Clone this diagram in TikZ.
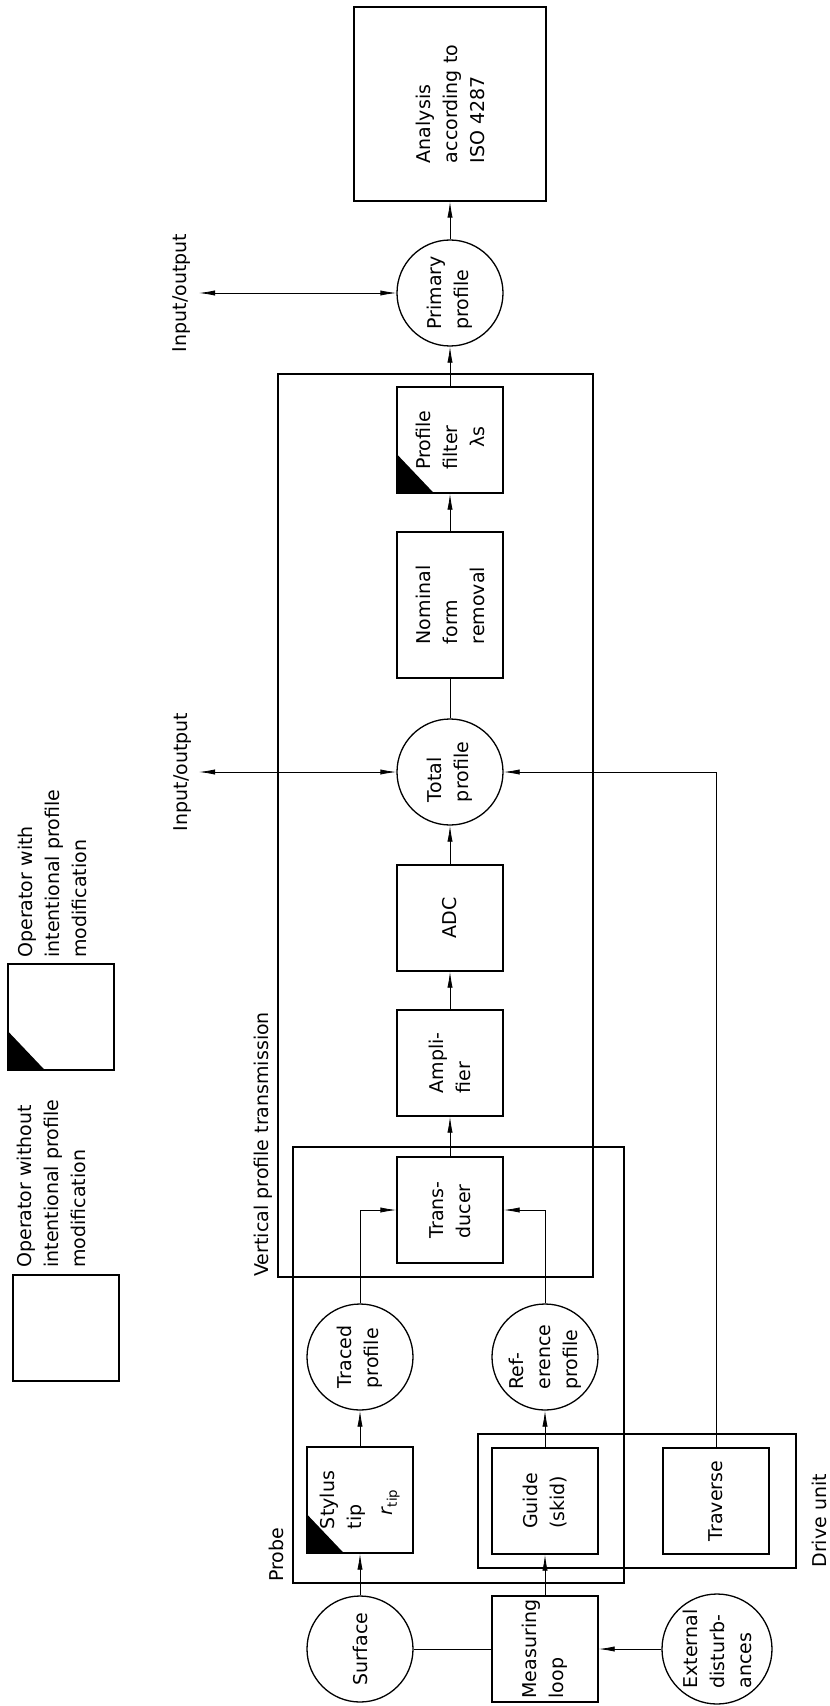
\documentclass[tikz,border=0pt]{standalone}
\usepackage{fontspec}
\setmainfont{DejaVu Sans}
\usetikzlibrary{shapes.geometric, arrows.meta, positioning}

\tikzset{
  opbox/.style={draw, rectangle, line width=0.65pt, rotate=90, align=left,
    minimum width=53pt, minimum height=53pt, inner sep=1pt},
  profcircle/.style={draw, ellipse, line width=0.65pt, rotate=90, align=left,
    minimum size=53pt, inner sep=-5pt},
  groupframe/.style={line width=0.65pt},
  flow/.style={-{Latex[length=8pt,width=2.6pt]}, line width=0.4pt},
  twoway/.style={{Latex[length=8pt,width=2.6pt]}-{Latex[length=8pt,width=2.6pt]}, line width=0.4pt},
  thinline/.style={line width=0.4pt},
  sidelabel/.style={rotate=90, inner sep=0pt, align=left},
}

\begin{document}
\begin{tikzpicture}[x=0.5pt, y=-0.5pt, font=\fontsize{9.5}{13.5}\selectfont]
    \useasboundingbox (0,0) rectangle (829,1706);

    % main chain
    \node[opbox, minimum width=97pt, minimum height=96pt] (ana) at (450,104) {Analysis\\according to\\ISO 4287};
    \node[profcircle] (prim) at (450,293) {Primary\\profile};
    \node[opbox] (filt) at (450,440) {Profile\\filter\\\hspace*{11pt}λs};
    \node[opbox, minimum width=73pt] (nom) at (450,605) {Nominal\\form\\removal};
    \node[profcircle] (tot) at (450,772) {Total\\profile};
    \node[opbox] (adc) at (450,918) {ADC};
    \node[opbox] (amp) at (450,1063) {Ampli-\\fier};
    \node[opbox] (trans) at (450,1210) {Trans-\\ducer};

    % probe and drive unit
    \node[profcircle] (traced) at (360,1357) {Traced\\profile};
    \node[profcircle] (ref) at (545,1357) {Ref-\\erence\\profile};
    \node[opbox] (stylus) at (360,1500) {Stylus\\tip\\[2pt]\hspace*{7pt}{\itshape r}\textsubscript{tip}};
    \node[opbox] (guide) at (545,1501) {Guide\\(skid)};
    \node[opbox] (trav) at (716,1501) {Traverse};
    \node[profcircle] (surf) at (360,1649) {Surface};
    \node[opbox] (meas) at (545,1649) {Measuring\\loop};
    \node[profcircle, minimum size=55pt] (ext) at (717,1649) {External\\disturb-\\ances};

    % legend
    \node[opbox] (legplain) at (66,1328) {};
    \node[opbox] (legmod) at (61,1017) {};
    \node[sidelabel, anchor=north west] (legplaintext) at (17,1268) {Operator without\\intentional profile\\modification};
    \node[sidelabel, anchor=north west] (legmodtext) at (18,958) {Operator with\\intentional profile\\modification};

    % black corners of the modifying operators
    \foreach \n in {legmod, stylus, filt}
        \fill (\n.north west) -- ++(0,-40) -- ++(38,40) -- cycle;

    % group frames
    \draw[groupframe] (278,374) rectangle (593,1277);
    \draw[groupframe] (293,1147) rectangle (624,1583);
    \draw[groupframe] (478,1434) rectangle (796,1568);
    \node[sidelabel, anchor=base west] (vptlabel) at (268,1277) {Vertical profile transmission};
    \node[sidelabel, anchor=base west] (probelabel) at (283,1582) {Probe};
    \node[sidelabel, anchor=base west] (drivelabel) at (826,1568) {Drive unit};

    % input/output
    \coordinate (ioprim) at (199,293);
    \coordinate (iotot) at (199,772);
    \node[sidelabel, anchor=base] (ioprimlabel) at (186,293) {Input/output};
    \node[sidelabel, anchor=base] (iototlabel) at (187,772) {Input/output};

    % connectors
    \draw[flow] (surf) -- (stylus);
    \draw[flow] (stylus) -- (traced);
    \draw[flow] (traced) |- (trans);
    \draw[flow] (ref) |- (trans);
    \draw[flow] (meas) -- (guide);
    \draw[flow] (guide) -- (ref);
    \draw[thinline] (surf) -- (meas);
    \draw[flow] (ext) -- (meas);
    \draw[flow] (trans) -- (amp);
    \draw[flow] (amp) -- (adc);
    \draw[flow] (adc) -- (tot);
    \draw[thinline] (tot) -- (nom);
    \draw[flow] (nom) -- (filt);
    \draw[flow] (filt) -- (prim);
    \draw[flow] (prim) -- (ana);
    \draw[flow] (trav) |- (tot);
    \draw[twoway] (ioprim) -- (prim);
    \draw[twoway] (iotot) -- (tot);
\end{tikzpicture}
\end{document}
